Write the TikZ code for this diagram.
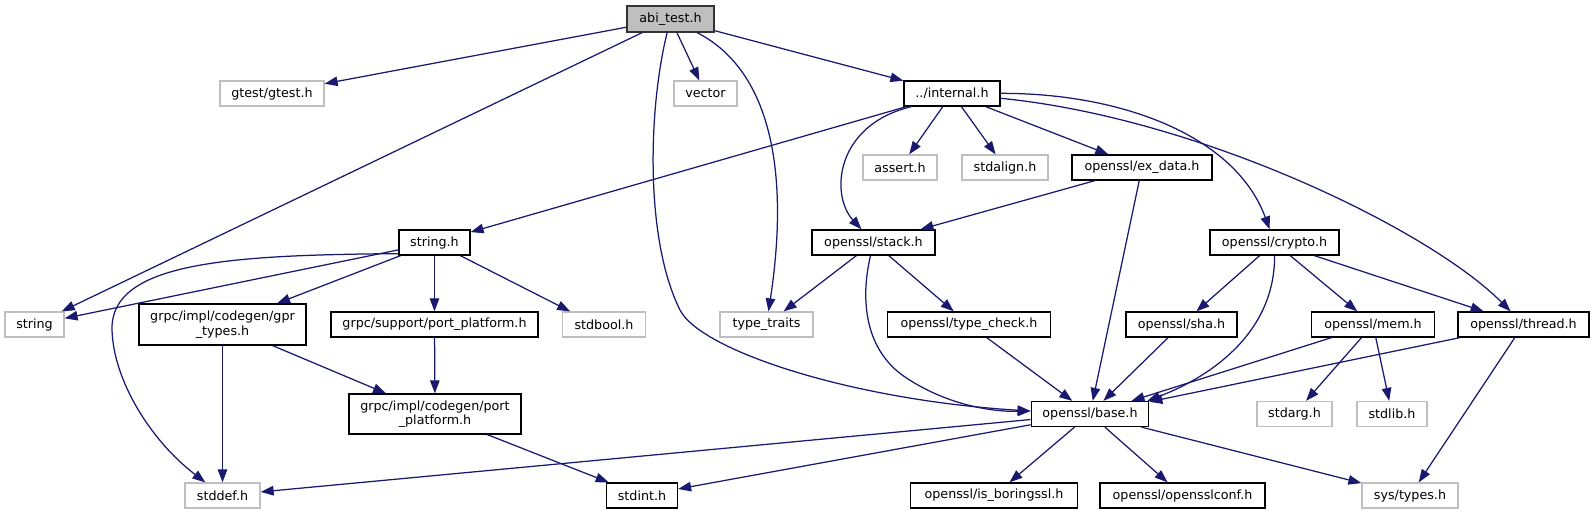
\documentclass[tikz,border=0pt]{standalone}
\usepackage{fontspec}
\newfontfamily\dvs{DejaVu Sans}
\usetikzlibrary{arrows.meta,calc}
\definecolor{edgec}{HTML}{191970}
\definecolor{gborder}{HTML}{BFBFBF}
\definecolor{rootfill}{HTML}{BFBFBF}
\tikzset{
  box/.style={draw=black, line width=1.25bp, fill=white, inner sep=0pt,
    minimum height=25bp, align=center,
    font={\dvs\fontsize{12.7bp}{14.5bp}\selectfont}},
  gbox/.style={box, draw=gborder},
  rootbox/.style={box, fill=rootfill, draw=black!80},
  e/.style={draw=edgec, line width=1.25bp, -{Triangle[length=13bp,width=9.5bp]}}
}
\begin{document}
\begin{tikzpicture}[x=1bp,y=-1bp]
\useasboundingbox (0,0) rectangle (1595,515);
% row 1
\node[rootbox, minimum width=87bp, minimum height=26bp] (abi) at (670.5,19) {abi\_test.h};
% row 2
\node[gbox, minimum width=104bp] (gtest) at (272,93.5) {gtest/gtest.h};
\node[gbox, minimum width=63bp] (vector) at (705.5,93.5) {vector};
\node[box, minimum width=96bp] (inth) at (952,93.5) {../internal.h};
% row 3
\node[gbox, minimum width=74bp] (assert) at (900,167.5) {assert.h};
\node[gbox, minimum width=86bp] (stdalign) at (1005,167.5) {stdalign.h};
\node[box, minimum width=140bp] (exdata) at (1142,167.5) {openssl/ex\_data.h};
% row 4
\node[box, minimum width=71bp] (strh) at (434.5,242.5) {string.h};
\node[box, minimum width=123bp] (stack) at (873.5,242.5) {openssl/stack.h};
\node[box, minimum width=129bp] (crypto) at (1274.5,242.5) {openssl/crypto.h};
% row 5
\node[gbox, minimum width=59bp] (string) at (34.5,324.5) {string};
\node[box, minimum width=167bp, minimum height=41bp] (gpr) at (222.5,324.5) {grpc/impl/codegen/gpr\\\_types.h};
\node[box, minimum width=207bp] (supp) at (434.5,324.5) {grpc/support/port\_platform.h};
\node[gbox, minimum width=82.5bp] (stdbool) at (604,324.5) {stdbool.h};
\node[gbox, minimum width=93bp] (tt) at (766.5,324.5) {type\_traits};
\node[box, minimum width=163.5bp] (tcheck) at (969,324.5) {openssl/type\_check.h};
\node[box, minimum width=111bp] (sha) at (1181.5,324.5) {openssl/sha.h};
\node[box, minimum width=122.5bp] (mem) at (1373,324.5) {openssl/mem.h};
\node[box, minimum width=131bp] (thread) at (1523.5,324.5) {openssl/thread.h};
% row 6
\node[box, minimum width=172bp, minimum height=40bp] (cpp) at (435,414) {grpc/impl/codegen/port\\\_platform.h};
\node[box, minimum width=117.5bp] (base) at (1090,414) {openssl/base.h};
\node[gbox, minimum width=75bp] (stdarg) at (1294.5,414) {stdarg.h};
\node[gbox, minimum width=70bp] (stdlib) at (1392,414) {stdlib.h};
% row 7
\node[gbox, minimum width=75bp] (stddef) at (222.5,495.5) {stddef.h};
\node[box, minimum width=71bp] (stdint) at (642,495.5) {stdint.h};
\node[box, minimum width=166.5bp] (isb) at (994,495.5) {openssl/is\_boringssl.h};
\node[box, minimum width=165bp] (conf) at (1182.5,495.5) {openssl/opensslconf.h};
\node[gbox, minimum width=96bp] (systypes) at (1410,495.5) {sys/types.h};

% edges from abi_test.h
\draw[e] (abi) -- (gtest);
\draw[e] (abi) -- (string);
\draw[e] (abi) -- (vector);
\draw[e] (abi) .. controls (770,70) and (790,170) .. (tt);
\draw[e] (abi) .. controls (648,110) and (645,240) .. (680,310) .. controls (700,350) and (850,400) .. ($(base.west)+(0,-3)$);
\draw[e] (abi) -- (inth);
% edges from ../internal.h
\draw[e] (inth) -- (strh);
\draw[e] ($(inth.south west)+(8,0)$) .. controls (835,125) and (830,195) .. (stack);
\draw[e] (inth) -- (assert);
\draw[e] (inth) -- (stdalign);
\draw[e] (inth) -- (exdata);
\draw[e] (inth) .. controls (1120,93) and (1235,135) .. (crypto);
\draw[e] (inth) .. controls (1200,118) and (1430,230) .. (thread);
% ex_data
\draw[e] (exdata) -- (stack);
\draw[e] (exdata) -- (base);
% string.h
\draw[e] (strh) -- (string);
\draw[e] ($(strh.south west)+(0,-2)$) .. controls (230,255) and (110,262) .. (112,330) .. controls (113.5,380) and (150,440) .. (stddef);
\draw[e] (strh) -- (gpr);
\draw[e] (strh) -- (supp);
\draw[e] (strh) -- ($(stdbool.north west)+(8,0)$);
% grpc
\draw[e] (gpr) -- (stddef);
\draw[e] (gpr) -- (cpp);
\draw[e] (supp) -- (cpp);
\draw[e] (cpp) -- (stdint);
% stack
\draw[e] (stack) -- (tt);
\draw[e] ($(stack.south)+(-3,0)$) .. controls (860,300) and (865,350) .. (905,377) .. controls (945,404) and (990,412) .. ($(base.west)+(0,-3)$);
\draw[e] (stack) -- (tcheck);
\draw[e] (tcheck) -- (base);
% crypto
\draw[e] (crypto) -- (sha);
\draw[e] (crypto) .. controls (1275,330) and (1215,375) .. ($(base.north east)+(-2,0)$);
\draw[e] (crypto) -- (mem);
\draw[e] (crypto) -- (thread);
\draw[e] (sha) -- (base);
\draw[e] (mem) -- (base);
\draw[e] (mem) -- (stdarg);
\draw[e] (mem) -- (stdlib);
\draw[e] (thread) -- (base);
\draw[e] (thread) -- (systypes);
% base
\draw[e] (base) -- (stddef);
\draw[e] (base) -- (stdint);
\draw[e] (base) -- (isb);
\draw[e] (base) -- (conf);
\draw[e] (base) -- (systypes);
\end{tikzpicture}
\end{document}
